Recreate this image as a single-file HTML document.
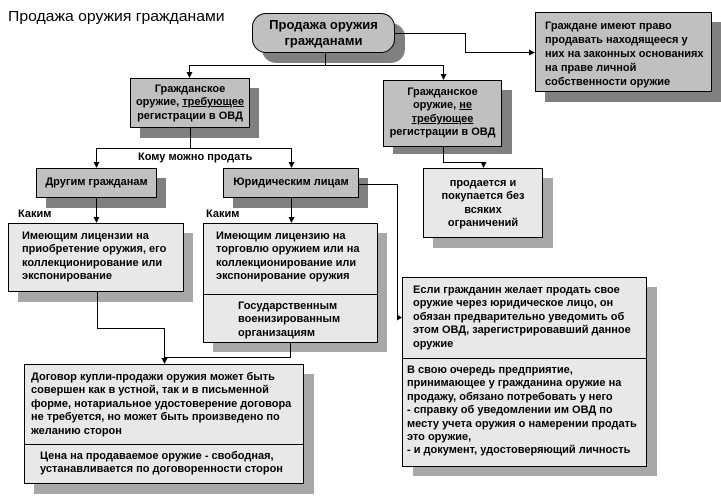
<!DOCTYPE html>
<html><head><meta charset="utf-8"><style>
body{margin:0;background:#fff;width:721px;height:496px;position:relative;overflow:hidden;font-family:"Liberation Sans",Arial,sans-serif;}
.b{position:absolute;border:1px solid #000;box-sizing:border-box;font-weight:bold;font-size:11px;line-height:13.4px;white-space:nowrap;color:#000;}
.g{background:#c0c0c0}.l{background:#e8e8e8}
.s{position:absolute;background:#808080}
.sl{position:absolute;background:#a8a8a8}
.t{position:absolute;font-weight:bold;font-size:11px;white-space:nowrap}
.c{text-align:center}
.d{border-top:1px solid #000}
</style></head><body>
<div style="position:absolute;left:8px;top:8px;font-size:15px;white-space:nowrap;transform:scaleX(1.05);transform-origin:0 0">Продажа оружия гражданами</div>

<!-- shadows -->
<div class="s" style="left:262px;top:23px;width:143px;height:40px;border-radius:14px"></div>
<div class="s" style="left:545px;top:22px;width:176px;height:80px"></div>
<div class="s" style="left:140px;top:88px;width:119px;height:50px"></div>
<div class="s" style="left:393px;top:90px;width:119px;height:64px"></div>
<div class="s" style="left:46px;top:178px;width:120px;height:30px"></div>
<div class="s" style="left:233px;top:178px;width:135px;height:30px"></div>
<div class="sl" style="left:433px;top:178px;width:120px;height:70px"></div>
<div class="sl" style="left:18px;top:233px;width:175px;height:69px"></div>
<div class="sl" style="left:213px;top:233px;width:174px;height:119px"></div>
<div class="sl" style="left:34px;top:374px;width:280px;height:120px"></div>
<div class="sl" style="left:413px;top:287px;width:244px;height:189px"></div>

<svg width="721" height="496" style="position:absolute;left:0;top:0" fill="none" stroke="#000" stroke-width="1">
<polyline points="395,33.5 465.5,33.5 465.5,52.5 530,52.5"/>
<polyline points="325.5,53 325.5,65.5"/>
<polyline points="189.5,73 189.5,65.5 443.5,65.5 443.5,75"/>
<polyline points="190.5,128 190.5,148.5"/>
<polyline points="96.5,163 96.5,148.5 291.5,148.5 291.5,163"/>
<polyline points="443.5,147 443.5,162.5 483.5,162.5 483.5,163"/>
<polyline points="358,184.5 397.5,184.5 397.5,317.5 398,317.5"/>
<polyline points="96.5,198 96.5,218"/>
<polyline points="291.5,198 291.5,218"/>
<polyline points="97.5,292 97.5,328.5 164.5,328.5 164.5,359"/>
<polyline points="290.5,343 290.5,357.5 164.5,357.5"/>
<g fill="#000" stroke="none">
<polygon points="535,52.5 529,49.5 529,55.5"/>
<polygon points="189.5,78 186.5,72 192.5,72"/>
<polygon points="443.5,80 440.5,74 446.5,74"/>
<polygon points="96.5,168 93.5,162 99.5,162"/>
<polygon points="291.5,168 288.5,162 294.5,162"/>
<polygon points="483.5,168 480.5,162 486.5,162"/>
<polygon points="402,317.5 397,314.5 397,320.5"/>
<polygon points="96.5,223 93.5,217 99.5,217"/>
<polygon points="291.5,223 288.5,217 294.5,217"/>
<polygon points="164.5,364 161.5,358 167.5,358"/>
</g>
</svg>

<div class="b g c" style="left:252px;top:13px;width:143px;height:40px;border-radius:14px;font-size:13px;line-height:16px;padding-top:3px">Продажа оружия<br>гражданами</div>
<div class="b g" style="left:535px;top:12px;width:177px;height:80px;padding:6px 0 0 9px;line-height:14px">Граждане имеют право<br>продавать находящееся у<br>них на законных основаниях<br>на праве личной<br>собственности оружие</div>
<div class="b g c" style="left:130px;top:78px;width:120px;height:50px;padding-top:4px">Гражданское<br>оружие, <u>требующее</u><br>регистрации в ОВД</div>
<div class="b g c" style="left:383px;top:80px;width:119px;height:67px;padding-top:5px">Гражданское<br>оружие, <u>не</u><br><u>требующее</u><br>регистрации в ОВД</div>
<div class="t" style="left:138px;top:151px">Кому можно продать</div>
<div class="b g c" style="left:36px;top:168px;width:121px;height:30px;padding-top:7px">Другим гражданам</div>
<div class="b g c" style="left:223px;top:168px;width:136px;height:30px;padding-top:7px">Юридическим лицам</div>
<div class="b l c" style="left:423px;top:168px;width:120px;height:70px;padding-top:8px">продается и<br>покупается без<br>всяких<br>ограничений</div>
<div class="t" style="left:18px;top:208px">Каким</div>
<div class="t" style="left:206px;top:208px">Каким</div>
<div class="b l" style="left:8px;top:223px;width:176px;height:69px;padding:6px 0 0 13px">Имеющим лицензии на<br>приобретение оружия, его<br>коллекционирование или<br>экспонирование</div>
<div class="b l" style="left:203px;top:223px;width:175px;height:120px">
<div style="padding:6px 0 0 12px;height:64px">Имеющим лицензию на<br>торговлю оружием или на<br>коллекционирование или<br>экспонирование оружия</div>
<div class="d" style="padding:5px 0 0 34px">Государственным<br>военизированным<br>организациям</div></div>
<div class="b l" style="left:24px;top:364px;width:280px;height:120px">
<div style="padding:6px 0 0 6px;height:73px">Договор купли-продажи оружия может быть<br>совершен как в устной, так и в письменной<br>форме, нотариальное удостоверение договора<br>не требуется, но может быть произведено по<br>желанию сторон</div>
<div class="d" style="padding:5px 0 0 15px">Цена на продаваемое оружие - свободная,<br>устанавливается по договоренности сторон</div></div>
<div class="b l" style="left:402px;top:277px;width:245px;height:190px">
<div style="padding:6px 0 0 10px;height:74px">Если гражданин желает продать свое<br>оружие через юридическое лицо, он<br>обязан предварительно уведомить об<br>этом ОВД, зарегистрировавший данное<br>оружие</div>
<div class="d" style="padding:5px 0 0 4px">В свою очередь предприятие,<br>принимающее у гражданина оружие на<br>продажу, обязано потребовать у него<br>- справку об уведомлении им ОВД по<br>месту учета оружия о намерении продать<br>это оружие,<br>- и документ, удостоверяющий личность</div></div>
</body></html>
